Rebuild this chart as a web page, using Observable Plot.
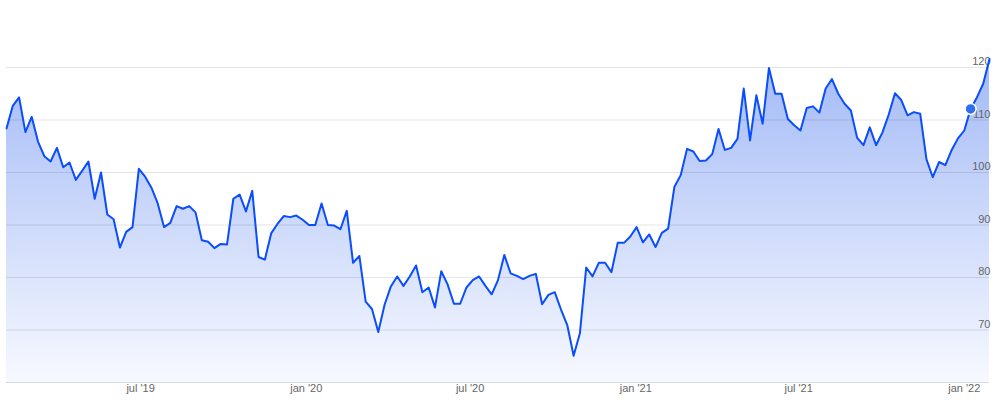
<!DOCTYPE html>
<html>
<head>
<meta charset="utf-8">
<script src="https://cdn.jsdelivr.net/npm/d3@7"></script>
<script src="https://cdn.jsdelivr.net/npm/@observablehq/plot@0.6"></script>
<style>
  html, body { margin: 0; padding: 0; background: #fff; }
  #chart { width: 998px; height: 403px; }
</style>
</head>
<body>
<div id="chart"></div>
<script>
// Weekly series start and values
const startDate = "2019-02-02";
const endDate = "2022-01-29";
const values = [
  108.4, 112.7, 114.3, 107.7, 110.6, 105.9, 103.1, 102.1, 104.7, 101.0,
  101.9, 98.6, 100.3, 102.1, 95.0, 100.0, 92.0, 91.1, 85.7, 88.7,
  89.6, 100.7, 99.2, 97.1, 94.1, 89.6, 90.4, 93.6, 93.1, 93.6,
  92.4, 87.1, 86.8, 85.6, 86.4, 86.3, 95.0, 95.8, 92.6, 96.5,
  83.9, 83.4, 88.4, 90.2, 91.7, 91.5, 91.8, 91.0, 90.0, 90.0,
  94.1, 90.0, 89.9, 89.2, 92.7, 82.8, 84.1, 75.4, 74.0, 69.6,
  74.8, 78.3, 80.2, 78.4, 80.2, 82.3, 77.2, 78.1, 74.3, 81.2,
  78.7, 75.0, 75.0, 78.1, 79.5, 80.2, 78.4, 76.8, 79.5, 84.3,
  80.8, 80.3, 79.7, 80.3, 80.7, 74.9, 76.7, 77.2, 73.9, 70.9,
  65.1, 69.4, 81.9, 80.2, 82.8, 82.8, 81.0, 86.6, 86.6, 87.8,
  89.6, 86.7, 88.2, 85.8, 88.5, 89.3, 97.3, 99.5, 104.5, 104.0,
  102.2, 102.3, 103.5, 108.3, 104.3, 104.7, 106.4, 116.0, 106.1, 114.7,
  109.3, 119.9, 115.0, 115.0, 110.2, 109.0, 108.0, 112.3, 112.6, 111.4,
  116.0, 117.8, 115.0, 113.1, 111.8, 106.6, 105.2, 108.6, 105.2, 107.6,
  111.0, 115.1, 113.8, 110.9, 111.5, 111.2, 102.5, 99.1, 102.0, 101.4,
  104.3, 106.5, 108.0, 112.1, 114.3, 116.9, 121.6
];
const markerIndex = 153;
const yTicks = [70, 80, 90, 100, 110, 120];
const xTickDates = ["2019-07-01", "2020-01-01", "2020-07-01", "2021-01-01", "2021-07-01", "2022-01-01"];
const monthNames = ["jan","feb","mar","apr","may","jun","jul","aug","sep","oct","nov","dec"];

const start = new Date(startDate + "T00:00:00Z");
const data = values.map((v, i) => ({ date: d3.utcDay.offset(start, 7 * i), v }));
const marker = data.filter((d, i) => i === markerIndex);

const fmtX = d => `${monthNames[d.getUTCMonth()]} '${String(d.getUTCFullYear()).slice(2)}`;

const svg = Plot.plot({
  width: 998,
  height: 403,
  marginLeft: 6,
  marginRight: 9,
  marginTop: 67,
  marginBottom: 21,
  style: { fontFamily: "'Liberation Sans', Arial, sans-serif", fontSize: "11px", background: "#fff", overflow: "visible" },
  x: { type: "utc", domain: [new Date(startDate + "T00:00:00Z"), new Date(endDate + "T00:00:00Z")] },
  y: { domain: [60, 120] },
  marks: [
    Plot.areaY(data, { x: "date", y1: 60, y2: "v", fill: "url(#areaGrad)", curve: "linear" }),
    Plot.gridY(yTicks, { stroke: "#000", strokeOpacity: 0.1 }),
    Plot.ruleY([60], { stroke: "#d5dbe6", strokeWidth: 1 }),
    Plot.axisY(yTicks, { anchor: "right", tickSize: 0, tickPadding: 0, textAnchor: "end", dx: 1, dy: -6, fill: "#666", label: null }),
    Plot.lineY(data, { x: "date", y: "v", stroke: "#0a4dfc", strokeWidth: 2, strokeLinejoin: "round" }),
    Plot.dot(marker, { x: "date", y: "v", r: 5.5, fill: "#2f6df2", stroke: "#fff", strokeWidth: 1.5 }),
    Plot.axisX(xTickDates.map(s => new Date(s + "T00:00:00Z")), { tickSize: 0, tickPadding: 2, tickFormat: fmtX, fill: "#666", label: null })
  ]
});

const defs = d3.select(svg).insert("defs", ":first-child");
const grad = defs.append("linearGradient")
  .attr("id", "areaGrad")
  .attr("x1", 0).attr("y1", 0).attr("x2", 0).attr("y2", 1);
grad.append("stop").attr("offset", "0%").attr("stop-color", "#a3baf6");
grad.append("stop").attr("offset", "100%").attr("stop-color", "#f7f9ff");

document.getElementById("chart").appendChild(svg);
</script>
</body>
</html>
